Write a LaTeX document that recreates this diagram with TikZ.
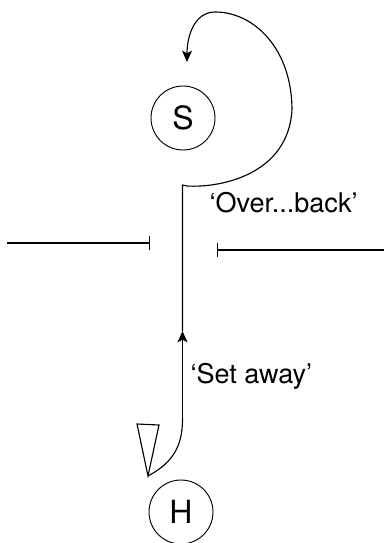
\documentclass[tikz,border=0pt]{standalone}
\usepackage{fontspec}
\setmainfont{TeX Gyre Heros}
\usetikzlibrary{arrows.meta}
\begin{document}
\begin{tikzpicture}[x=0.75pt,y=-0.75pt,line width=0.85pt,
  place/.style={circle,draw,line width=0.7pt,minimum size=48pt,inner sep=0pt,font=\fontsize{24}{28}\selectfont},
  lbl/.style={anchor=base west,inner sep=0pt,font=\fontsize{20.3}{24}\selectfont},
  tipa/.style={-{Stealth[length=8.5pt,width=7.5pt,inset=2pt]}}]
\useasboundingbox (0,0) rectangle (384,543);
% nodes
\node[place] (S) at (183,118) {S};
\node[place] (H) at (181,512) {H};
\node[lbl] (over) at (209,212) {‘Over...back’};
\node[lbl] (set) at (190,383) {‘Set away’};
% coordinates
\coordinate (pentip) at (148,476);
\coordinate (penl) at (137,424);
\coordinate (penr) at (159,425);
\coordinate (bend) at (182.5,419);
\coordinate (arrtip) at (182.5,331);
\coordinate (top) at (182.5,185);
\coordinate (hook) at (187,186);
\coordinate (right) at (292,110);
\coordinate (apex) at (215,12);
\coordinate (loopend) at (187,62);
\coordinate (lfar) at (7,243);
\coordinate (lnear) at (150,243);
\coordinate (rnear) at (217,250);
\coordinate (rfar) at (384,250);
% pennant
\draw (penl) -- (penr) -- (pentip) -- cycle;
% path from H
\draw (pentip) .. controls (174,462) and (182.5,445) .. (bend);
\draw[tipa] (bend) -- (arrtip);
\draw[tipa] (arrtip) -- (top) -- (hook)
  .. controls (220,188) and (288,175) .. (right)
  .. controls (292,50) and (255,12) .. (apex)
  .. controls (195,12) and (187,35) .. (loopend);
% horizontal lines
\draw[-{Bar[width=10.5pt]}] (lfar) -- (lnear);
\draw[{Bar[width=10.5pt]}-] (rnear) -- (rfar);
\end{tikzpicture}
\end{document}
